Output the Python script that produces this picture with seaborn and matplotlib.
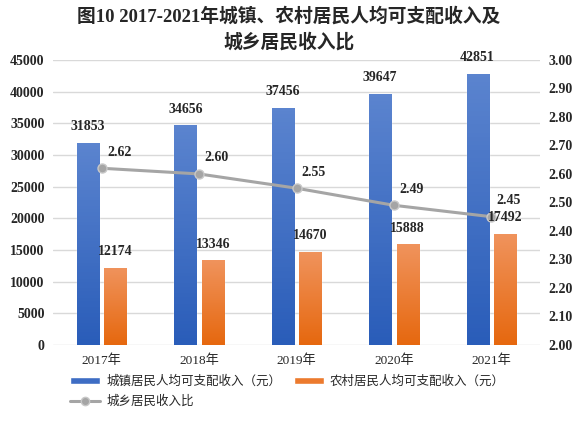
import matplotlib
matplotlib.use("Agg")
import matplotlib.pyplot as plt
from matplotlib.patches import Patch
from matplotlib.lines import Line2D
import seaborn as sns
import pandas as pd
import numpy as np

sns.set_theme(style="white")
plt.rcParams["font.family"] = ["Liberation Serif", "Noto Sans CJK SC"]

# 数据
years = ["2017年", "2018年", "2019年", "2020年", "2021年"]
urban = [31853, 34656, 37456, 39647, 42851]
rural = [12174, 13346, 14670, 15888, 17492]
ratio = [2.62, 2.60, 2.55, 2.49, 2.45]

s_urban = "城镇居民人均可支配收入（元）"
s_rural = "农村居民人均可支配收入（元）"
s_ratio = "城乡居民收入比"

df = pd.DataFrame({"year": years * 2,
                   "value": urban + rural,
                   "series": [s_urban] * 5 + [s_rural] * 5})

blue_top, blue_bot = "#5B84CF", "#2A5DB9"
orange_top, orange_bot = "#F0935C", "#E6680F"
grey = "#A5A5A5"

fig = plt.figure(figsize=(5.78, 4.22), dpi=100)
ax = fig.add_axes([0.0917, 0.1825, 0.8426, 0.6755])

sns.barplot(data=df, x="year", y="value", hue="series",
            palette=[blue_bot, orange_bot], width=0.565, gap=0.2,
            ax=ax, legend=False, zorder=2)

# 渐变填充
def grad(patch, c_top, c_bot):
    x0, y0 = patch.get_x(), patch.get_y()
    w, h = patch.get_width(), patch.get_height()
    cmap = matplotlib.colors.LinearSegmentedColormap.from_list("g", [c_bot, c_top])
    img = ax.imshow(np.linspace(0, 1, 64).reshape(-1, 1), cmap=cmap,
                    extent=[x0, x0 + w, y0, y0 + h], origin="lower",
                    aspect="auto", zorder=2.5)
    img.set_clip_path(patch)

ax.set_xlim(-0.5, 4.5)
ax.set_ylim(0, 45000)
ax.set_yticks(range(0, 45001, 5000))
ax.grid(axis="y", color="#D9D9D9", linewidth=1, zorder=0)
ax.set_axisbelow(True)
ax.set_xlabel("")
ax.set_ylabel("")
for s in ax.spines.values():
    s.set_visible(False)
ax.tick_params(axis="y", length=0, pad=6, labelsize=10)
ax.tick_params(axis="x", length=0, pad=7, labelsize=9.5)
for t in ax.get_yticklabels():
    t.set_fontweight("bold")

ax2 = ax.twinx()
sns.pointplot(x=years, y=ratio, color=grey, ax=ax2, markers="o",
              linewidth=2.2, markersize=6.5, zorder=4)
for ln in ax2.lines:
    ln.set_markeredgecolor("#C8C8C8")
    ln.set_markeredgewidth(1)
ax2.set_xlim(-0.5, 4.5)
ax2.set_ylim(2.0, 3.0)
ax2.set_yticks(np.arange(2.0, 3.001, 0.1))
ax2.set_yticklabels([f"{v:.2f}" for v in np.arange(2.0, 3.001, 0.1)])
ax2.grid(False)
for s in ax2.spines.values():
    s.set_visible(False)
ax2.tick_params(axis="y", length=0, pad=6, labelsize=10)
for t in ax2.get_yticklabels():
    t.set_fontweight("bold")

# 柱子渐变 + 数据标签（标签放在折线之上）
for i, cont in enumerate(ax.containers):
    ct, cb = (blue_top, blue_bot) if i == 0 else (orange_top, orange_bot)
    for p in cont:
        grad(p, ct, cb)
        ax2.annotate(f"{p.get_height():.0f}",
                     (p.get_x() + p.get_width() / 2, p.get_height()),
                     xycoords=ax.transData, xytext=(0, 7),
                     textcoords="offset points", ha="center", va="bottom",
                     fontsize=10, fontweight="bold", zorder=6)

for i, v in enumerate(ratio):
    ax2.annotate(f"{v:.2f}", (i, v), xytext=(12.5, 11.5),
                 textcoords="offset points", ha="center", va="center",
                 fontsize=10, fontweight="bold", zorder=6)

fig.text(0.5, 0.962, "图10 2017-2021年城镇、农村居民人均可支配收入及",
         ha="center", va="center", fontsize=13.5, fontweight="bold")
fig.text(0.5, 0.900, "城乡居民收入比",
         ha="center", va="center", fontsize=13.5, fontweight="bold")

handles = [Patch(facecolor="#3E6DC4", label=s_urban),
           Line2D([], [], color=grey, lw=2.2, marker="o", markersize=6,
                  markeredgecolor="#C8C8C8", label=s_ratio),
           Patch(facecolor="#EC7A2E", label=s_rural)]
fig.legend(handles=handles, ncol=2, loc="upper left",
           bbox_to_anchor=(0.11, 0.125), frameon=False, fontsize=9,
           handlelength=2.4, handleheight=0.6, handletextpad=0.5,
           columnspacing=1.0, labelspacing=0.6, borderpad=0)

fig.savefig("out.png", dpi=100)
